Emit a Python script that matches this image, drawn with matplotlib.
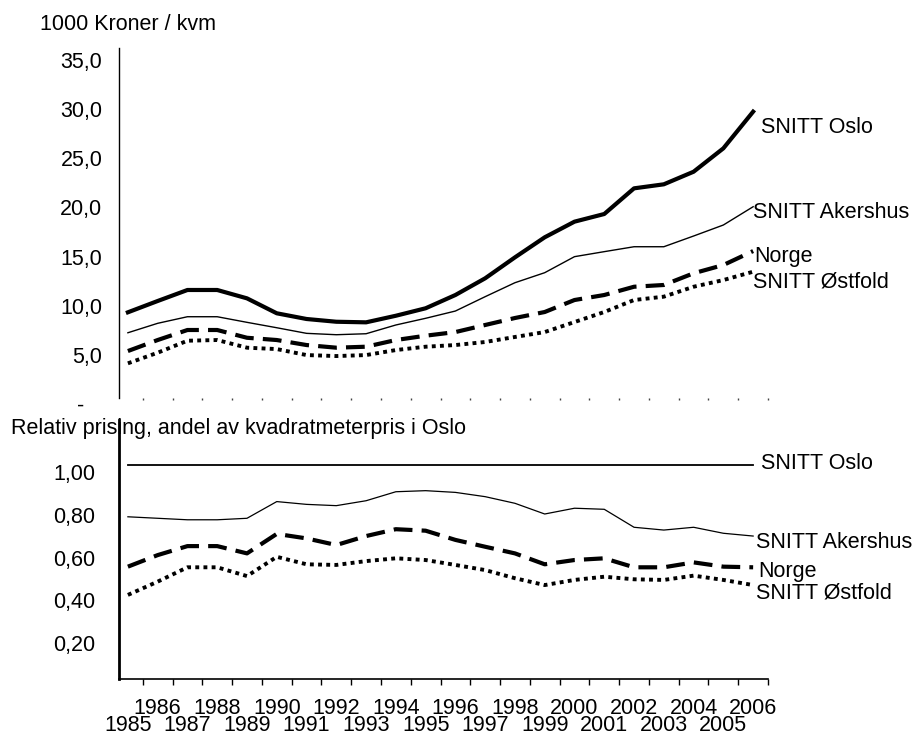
import numpy as np
import matplotlib.pyplot as plt
import matplotlib.transforms as mtransforms
from matplotlib.ticker import FuncFormatter

plt.rcParams['font.family'] = ['Liberation Sans', 'DejaVu Sans']
plt.rcParams['font.size'] = 15.5

years = list(range(1985, 2007))
names = ['SNITT Oslo', 'SNITT Akershus', 'Norge', 'SNITT Østfold']

# 1000 kroner per kvm
oslo = [8.72, 9.87, 10.99, 10.99, 10.14, 8.62, 8.04, 7.76, 7.70, 8.37, 9.13,
        10.48, 12.18, 14.31, 16.35, 17.94, 18.72, 21.33, 21.74, 23.02, 25.40, 29.13]
akershus = [6.64, 7.60, 8.27, 8.27, 7.70, 7.15, 6.58, 6.44, 6.54, 7.43, 8.11,
            8.85, 10.31, 11.73, 12.75, 14.38, 14.89, 15.39, 15.39, 16.48, 17.60, 19.46]
norge = [4.78, 5.90, 6.92, 6.92, 6.13, 5.90, 5.39, 5.12, 5.22, 5.90, 6.34,
         6.71, 7.43, 8.14, 8.75, 9.97, 10.48, 11.32, 11.50, 12.69, 13.53, 14.95]
ostfold = [3.53, 4.61, 5.83, 5.90, 5.12, 4.98, 4.37, 4.27, 4.37, 4.88, 5.22,
           5.39, 5.70, 6.21, 6.71, 7.73, 8.75, 9.97, 10.31, 11.32, 12.00, 12.85]

# andel av kvadratmeterpris i Oslo
rel_oslo = [1.00, 1.00, 1.00, 1.00, 1.00, 1.00, 1.00, 1.00, 1.00, 1.00, 1.00,
            1.00, 1.00, 1.00, 1.00, 1.00, 1.00, 1.00, 1.00, 1.00, 1.00, 1.00]
rel_akershus = [0.758, 0.751, 0.744, 0.744, 0.751, 0.829, 0.816, 0.810, 0.833, 0.875, 0.880,
                0.872, 0.852, 0.821, 0.771, 0.798, 0.793, 0.709, 0.696, 0.709, 0.681, 0.668]
rel_norge = [0.525, 0.579, 0.621, 0.621, 0.587, 0.678, 0.657, 0.626, 0.668, 0.700, 0.693,
             0.650, 0.618, 0.587, 0.536, 0.556, 0.564, 0.522, 0.522, 0.545, 0.525, 0.522]
rel_ostfold = [0.393, 0.455, 0.522, 0.522, 0.481, 0.571, 0.536, 0.533, 0.551, 0.564, 0.556,
               0.533, 0.509, 0.471, 0.439, 0.463, 0.478, 0.466, 0.463, 0.483, 0.463, 0.439]

x = np.arange(len(years))

fig = plt.figure(figsize=(9.13, 7.36), dpi=100)
ax1 = fig.add_axes([0.1303, 0.4592, 0.7109, 0.4755])
ax2 = fig.add_axes([0.1303, 0.0774, 0.7109, 0.3519])

# top chart
ax1.plot(x, oslo, color='black', lw=3.0)
ax1.plot(x, akershus, color='black', lw=1.0)
ax1.plot(x, norge, color='black', lw=3.0, dashes=(4.5, 2.2))
ax1.plot(x, ostfold, color='black', lw=2.8, dashes=(1, 1.1))

ax1.set_xlim(-0.3, 21.5)
ax1.set_ylim(0, 35.6)
ax1.set_yticks(np.arange(0, 36, 5))
ax1.yaxis.set_major_formatter(FuncFormatter(
    lambda v, p: '-   ' if v == 0 else f'{v:.1f}'.replace('.', ',')))
ax1.tick_params(axis='y', length=0, pad=12)
ax1.set_xticks(np.arange(0.5, 22, 1))
ax1.set_xticklabels([])
ax1.tick_params(axis='x', length=1.5, width=1, color='#444444')
for s in ['top', 'right', 'bottom']:
    ax1.spines[s].set_visible(False)
ax1.spines['left'].set_linewidth(1.0)

offs1 = [(8, -16), (0, -6), (1, -5), (0, -10)]
for name, ys, off in zip(names, [oslo, akershus, norge, ostfold], offs1):
    ax1.annotate(name, (x[-1], ys[-1]), xytext=off, textcoords='offset pixels',
                 ha='left', va='center', annotation_clip=False)

# bottom chart
ax2.plot(x, rel_oslo, color='black', lw=1.3)
ax2.plot(x, rel_akershus, color='black', lw=0.9)
ax2.plot(x, rel_norge, color='black', lw=3.0, dashes=(4.5, 2.2))
ax2.plot(x, rel_ostfold, color='black', lw=2.8, dashes=(1, 1.1))

ax2.set_xlim(-0.3, 21.5)
ax2.set_ylim(0, 1.21)
ax2.set_yticks([0.2, 0.4, 0.6, 0.8, 1.0])
ax2.yaxis.set_major_formatter(FuncFormatter(lambda v, p: f'{v:.2f}'.replace('.', ',')))
ax2.tick_params(axis='y', length=0, pad=17)
# even years on the upper row as tick labels, odd years on a lower row
ax2.set_xticks(x[1::2])
ax2.set_xticklabels([str(y) for y in years[1::2]])
ax2.set_xticks(np.arange(0.5, 22, 1), minor=True)
ax2.tick_params(axis='x', which='major', length=0, pad=13.5)
ax2.tick_params(axis='x', which='minor', length=4, width=1)
for xi, y in zip(x[0::2], years[0::2]):
    ax2.text(xi, 0, str(y), transform=ax2.get_xaxis_transform(), ha='center', va='top')
for t in ax2.texts:
    t.set_transform(t.get_transform() + mtransforms.ScaledTranslation(0, -0.355, fig.dpi_scale_trans))
for s in ['top', 'right']:
    ax2.spines[s].set_visible(False)
ax2.spines['left'].set_linewidth(2.0)
ax2.spines['bottom'].set_linewidth(1.2)

offs2 = [(8, 1), (3, -6), (5, -4), (3, -8)]
for name, ys, off in zip(names, [rel_oslo, rel_akershus, rel_norge, rel_ostfold], offs2):
    ax2.annotate(name, (x[-1], ys[-1]), xytext=off, textcoords='offset pixels',
                 ha='left', va='center', annotation_clip=False)

# Excel-style: value labels sit a little below their gridline position
for ax, dy in [(ax1, 6), (ax2, 7)]:
    shift = mtransforms.ScaledTranslation(0, -dy / 100, fig.dpi_scale_trans)
    for tick in ax.yaxis.get_major_ticks():
        tick.label1.set_transform(tick.label1.get_transform() + shift)

fig.text(40 / 913, 1 - 25 / 736, '1000 Kroner / kvm', ha='left', va='center')
fig.text(11 / 913, 1 - 429 / 736, 'Relativ prising, andel av kvadratmeterpris i Oslo',
         ha='left', va='center')

fig.savefig('out.png', dpi=100)
